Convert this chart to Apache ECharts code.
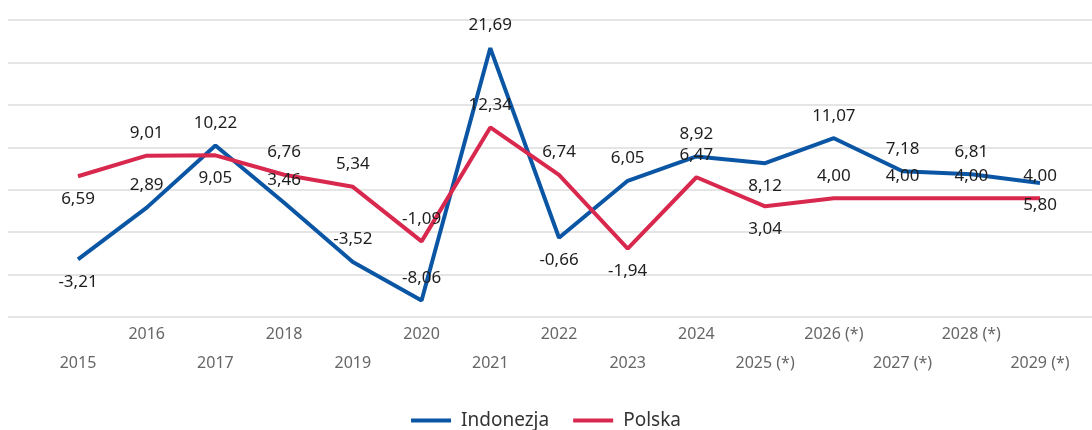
<!DOCTYPE html>
<html lang="pl">
<head>
    <meta charset="UTF-8">
    <title>Indonezja / Polska</title>
    <script src="https://cdn.jsdelivr.net/npm/echarts@6/dist/echarts.min.js"></script>
</head>
<body style="margin:0">
<div id="content" style="height: 430px;width: 1092px"></div>
<script>
    // dane
    var years = ['2015', '2016', '2017', '2018', '2019', '2020', '2021', '2022', '2023',
        '2024', '2025 (*)', '2026 (*)', '2027 (*)', '2028 (*)', '2029 (*)'];
    var indonezja = [-3.21, 2.89, 10.22, 3.46, -3.52, -8.06, 21.69, -0.66, 6.05, 8.92, 8.12, 11.07, 7.18, 6.81, 5.80];
    var polska = [6.59, 9.01, 9.05, 6.76, 5.34, -1.09, 12.34, 6.74, -1.94, 6.47, 3.04, 4.00, 4.00, 4.00, 4.00];
    var yTicks = [-10, -5, 0, 5, 10, 15, 20, 25];

    // gdzie stoi etykieta wartości (nad / pod punktem)
    var indoLabelPos = ['bottom', 'top', 'top', 'top', 'top', 'top', 'top', 'bottom', 'top', 'top', 'bottom', 'top', 'top', 'top', 'bottom'];
    var polLabelPos = ['bottom', 'top', 'bottom', 'top', 'top', 'top', 'top', 'top', 'bottom', 'top', 'bottom', 'top', 'top', 'top', 'top'];

    var myChart = echarts.init(document.getElementById('content'));

    function fmt(v) {
        return v.toFixed(2).replace('.', ',');
    }

    function withLabels(values, pos) {
        return values.map(function (v, i) {
            return {value: v, label: {position: pos[i]}};
        });
    }

    var yMin = yTicks[0], yMax = yTicks[yTicks.length - 1], yStep = yTicks[1] - yTicks[0];

    var valueLabel = {
        show: true, distance: 14, fontSize: 17, color: '#1e1e1e',
        formatter: function (p) { return fmt(p.value); }
    };

    var option = {
        animation: false,
        textStyle: {fontFamily: 'Noto Sans'},
        grid: [
            // tylko linie siatki, na całą szerokość
            {left: 8, right: 0, top: 20, bottom: 113},
            // dane
            {left: 78, right: 52, top: 20, bottom: 113}
        ],
        legend: {
            top: 406,
            left: 'center',
            icon: 'rect',
            itemWidth: 40,
            itemHeight: 4,
            itemGap: 24,
            textStyle: {fontSize: 19, color: '#333', padding: [0, 0, 0, 5]},
            data: ['Indonezja', 'Polska']
        },
        xAxis: [
            {gridIndex: 0, type: 'category', data: years, show: false},
            {
                gridIndex: 1, type: 'category', data: years, boundaryGap: false,
                axisLine: {show: false}, axisTick: {show: false}, splitLine: {show: false},
                axisLabel: {
                    interval: 0, margin: 3, fontSize: 16, color: '#666', lineHeight: 29,
                    formatter: function (v, i) {
                        return i % 2 === 1 ? v : '\n' + v;
                    }
                }
            }
        ],
        yAxis: [
            {
                gridIndex: 0, type: 'value', min: yMin, max: yMax, interval: yStep,
                axisLabel: {show: false}, axisLine: {show: false}, axisTick: {show: false},
                splitLine: {lineStyle: {color: '#dcdcdc', width: 1.5}}
            },
            {
                gridIndex: 1, type: 'value', min: yMin, max: yMax, interval: yStep,
                show: false, splitLine: {show: false}
            }
        ],
        series: [
            {
                name: 'Indonezja', type: 'line', xAxisIndex: 1, yAxisIndex: 1,
                symbol: 'circle', symbolSize: 0.01, showSymbol: true, color: '#0b56a4',
                lineStyle: {width: 4},
                label: valueLabel,
                data: withLabels(indonezja, indoLabelPos)
            },
            {
                name: 'Polska', type: 'line', xAxisIndex: 1, yAxisIndex: 1,
                symbol: 'circle', symbolSize: 0.01, showSymbol: true, color: '#d9284d',
                lineStyle: {width: 4},
                label: valueLabel,
                data: withLabels(polska, polLabelPos)
            }
        ]
    };
    myChart.setOption(option);
</script>
</body>
</html>
